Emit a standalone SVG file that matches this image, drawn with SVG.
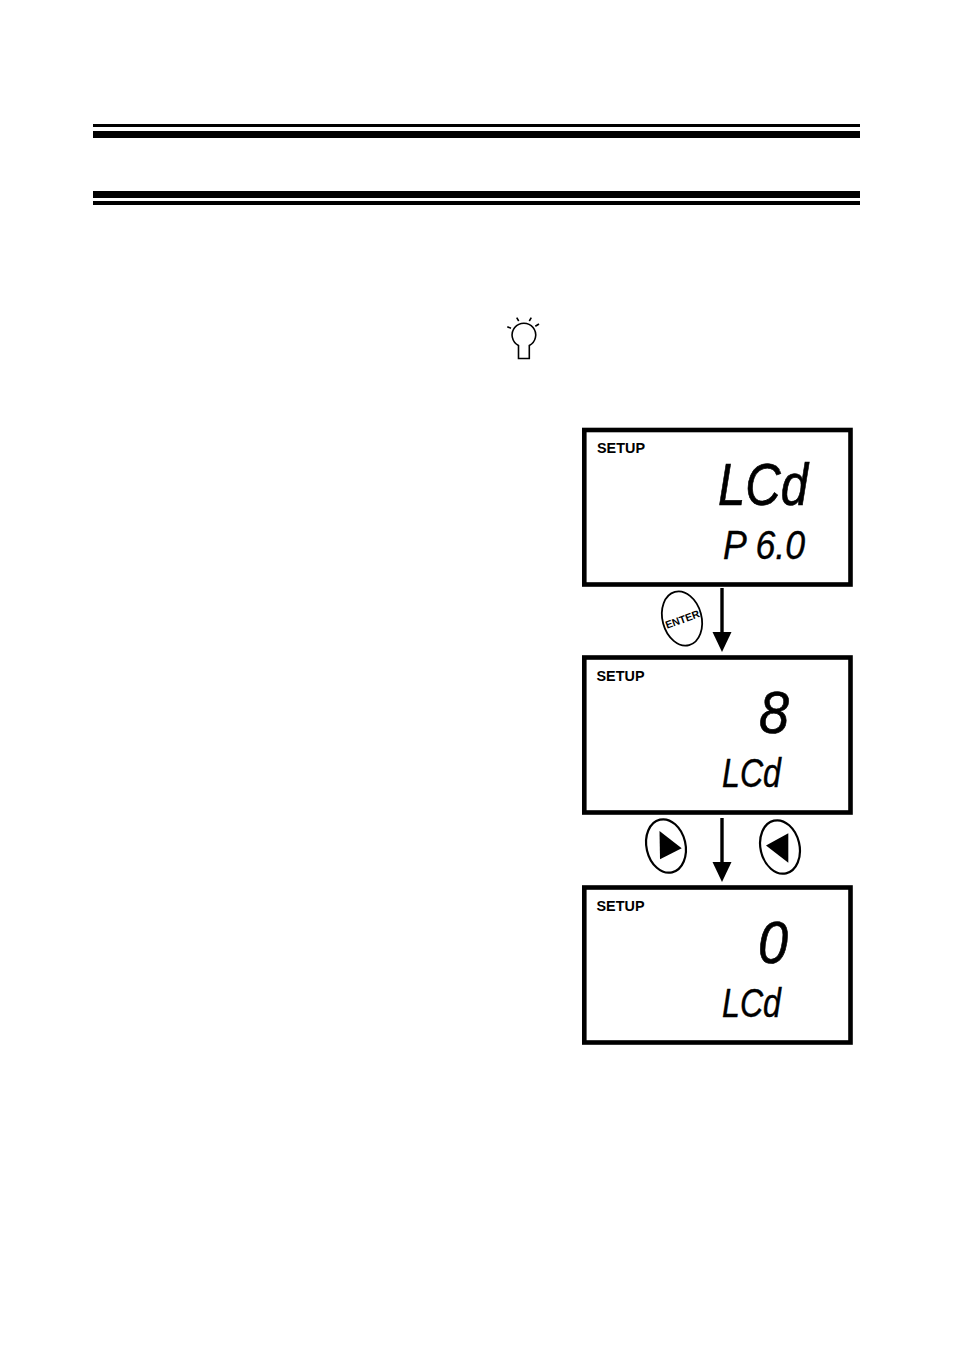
<svg xmlns="http://www.w3.org/2000/svg" width="954" height="1351" viewBox="0 0 954 1351">
<style>
.box{fill:#fff;stroke:#000;stroke-width:4.6}
.setup{font:bold 14.4px "Liberation Sans",Arial,sans-serif;fill:#000}
.seg{font-family:"Liberation Sans",Arial,sans-serif;font-style:italic;fill:#000;stroke:#000}
.big{font-size:60px;stroke-width:.7}
.small{font-size:40px;stroke-width:.4}
.btn{fill:#fff;stroke:#000;stroke-width:2.2}
.wire{stroke:#000;stroke-width:3.4;fill:none}
</style>
<g id="header-rules" fill="#000">
<rect x="93" y="124" width="767" height="3"/>
<rect x="93" y="131" width="767" height="7"/>
<rect x="93" y="191" width="767" height="7"/>
<rect x="93" y="201" width="767" height="4"/>
</g>
<g id="bulb" fill="none" stroke="#000" stroke-width="1.6">
<path d="M518.5 345.5V358.5H529.3V345.5A11.8 11.8 0 1 0 518.5 345.5Z" fill="#fff"/>
<path d="M516.7 317.7L518.7 321M531.3 317.7L529.3 321M507.3 326.7L511 328.3M539 324L535.3 326.3"/>
</g>
<g id="connectors">
<line class="wire" x1="722" y1="588" x2="722" y2="640"/>
<line class="wire" x1="722" y1="818" x2="722" y2="870"/>
<path d="M712.5 632L731.5 632L722 652Z" fill="#000"/>
<path d="M712.5 862L731.5 862L722 882Z" fill="#000"/>
</g>
<g id="display-1">
<rect class="box" x="584.3" y="430" width="266.2" height="154.5"/>
<text class="setup" x="597" y="453">SETUP</text>
<text class="seg big" x="718" y="505" textLength="90" lengthAdjust="spacingAndGlyphs">LCd</text>
<text class="seg small" x="723" y="559" textLength="82" lengthAdjust="spacingAndGlyphs">P 6.0</text>
</g>
<g id="display-2">
<rect class="box" x="584.3" y="657.5" width="266.2" height="155"/>
<text class="setup" x="596.5" y="680.5">SETUP</text>
<text class="seg big" x="759" y="733" textLength="30" lengthAdjust="spacingAndGlyphs">8</text>
<text class="seg small" x="722" y="787" textLength="59" lengthAdjust="spacingAndGlyphs">LCd</text>
</g>
<g id="display-3">
<rect class="box" x="584.3" y="887.5" width="266.2" height="155"/>
<text class="setup" x="596.5" y="910.5">SETUP</text>
<text class="seg big" x="758" y="963" textLength="30" lengthAdjust="spacingAndGlyphs">0</text>
<text class="seg small" x="722" y="1017" textLength="59" lengthAdjust="spacingAndGlyphs">LCd</text>
</g>
<g id="button-enter">
<ellipse class="btn" cx="682" cy="618.5" rx="19.5" ry="27.5" transform="rotate(-15 682 618.5)" style="stroke-width:1.8"/>
<text x="682.5" y="623" transform="rotate(-20 682.5 619.3)" text-anchor="middle" font-family="Liberation Sans,Arial,sans-serif" font-size="10.5" font-weight="bold" fill="#000">ENTER</text>
</g>
<g id="button-right">
<ellipse class="btn" cx="666" cy="846" rx="19.5" ry="27" transform="rotate(-13 666 846)"/>
<path d="M659.5 831L681.7 848.3L660 859.3Z" fill="#000"/>
</g>
<g id="button-left">
<ellipse class="btn" cx="780" cy="847" rx="19.5" ry="27" transform="rotate(-13 780 847)"/>
<path d="M788.3 833.3L766 845.5L788.3 862.7Z" fill="#000"/>
</g>
</svg>
